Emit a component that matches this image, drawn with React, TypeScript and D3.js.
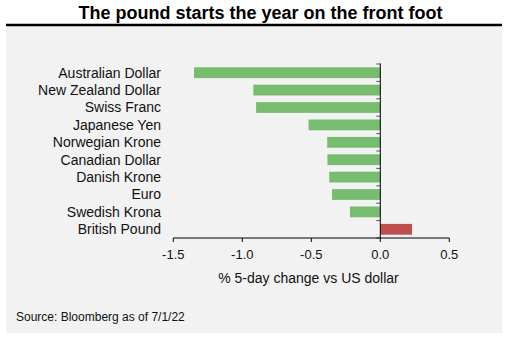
import React from "react";
import * as d3 from "d3";

const categories = [
  "Australian Dollar",
  "New Zealand Dollar",
  "Swiss Franc",
  "Japanese Yen",
  "Norwegian Krone",
  "Canadian Dollar",
  "Danish Krone",
  "Euro",
  "Swedish Krona",
  "British Pound",
];
const values = [-1.35, -0.92, -0.9, -0.52, -0.385, -0.383, -0.37, -0.35, -0.22, 0.23];
const xTicks = [-1.5, -1.0, -0.5, 0.0, 0.5];

const W = 509;
const H = 345;
const FONT = "Arial, 'Liberation Sans', sans-serif";

export default function App() {
  const x = d3.scaleLinear().domain([-1.5, 0.5]).range([173.3, 449.3]);
  const y = d3.scaleBand<string>().domain(categories).range([64, 238]).paddingInner(0.38).paddingOuter(0.19);
  const step = y.step();
  const x0 = x(0);
  return (
    <svg width={W} height={H} style={{ position: "absolute", left: 0, top: 0 }} fontFamily={FONT}>
      <rect x={0} y={0} width={W} height={H} fill="#ffffff" />
      <rect x={6} y={26} width={496} height={307} fill="#f2f2f2" />
      <line x1={6} x2={502} y1={25} y2={25} stroke="#000" strokeWidth={2.5} />
      <text x={260.5} y={18.5} textAnchor="middle" fontSize={18} fontWeight="bold" fill="#000">
        The pound starts the year on the front foot
      </text>
      {categories.map((c, i) => {
        const v = values[i];
        return (
          <rect
            key={c}
            x={Math.min(x(v), x0)}
            y={y(c)!}
            width={Math.abs(x(v) - x0)}
            height={y.bandwidth()}
            fill={v < 0 ? "#77bc6f" : "#c0504d"}
          />
        );
      })}
      {categories.map((c) => (
        <text key={c} x={161} y={y(c)! + y.bandwidth() / 2 + 4.8} textAnchor="end" fontSize={14} fill="#111">
          {c}
        </text>
      ))}
      {/* y axis ticks */}
      {d3.range(categories.length + 1).map((i) => (
        <line key={i} x1={x0 - 4} x2={x0} y1={64 + i * step} y2={64 + i * step} stroke="#555" strokeWidth={1} />
      ))}
      <line x1={x0} x2={x0} y1={63.5} y2={238} stroke="#000" strokeWidth={1} />
      {/* x axis */}
      <line x1={x(-1.5)} x2={x(0.5)} y1={238} y2={238} stroke="#000" strokeWidth={1} />
      {xTicks.map((t) => (
        <g key={t}>
          <line x1={x(t)} x2={x(t)} y1={238} y2={242} stroke="#000" strokeWidth={1} />
          <text x={x(t)} y={259.3} textAnchor="middle" fontSize={13} fill="#111">
            {t.toFixed(1)}
          </text>
        </g>
      ))}
      <text x={308.5} y={282.7} textAnchor="middle" fontSize={14} fill="#111">
        % 5-day change vs US dollar
      </text>
      <text x={16} y={321} fontSize={12} fill="#111">
        Source: Bloomberg as of 7/1/22
      </text>
    </svg>
  );
}
